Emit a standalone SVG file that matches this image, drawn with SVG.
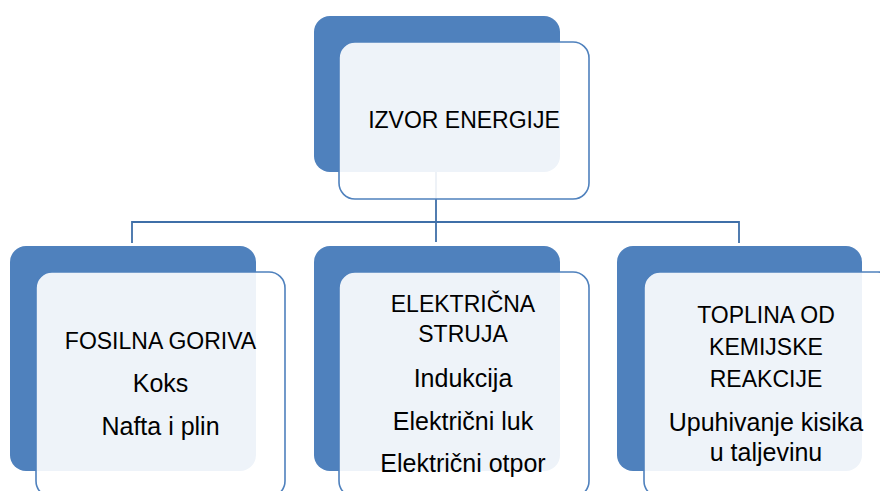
<svg xmlns="http://www.w3.org/2000/svg" width="880" height="491" viewBox="0 0 880 491">
<style>
.back{fill:#4F81BD}
.front{fill:#FFFFFF;fill-opacity:0.9;stroke:#4F81BD;stroke-width:1.6}
.conn{fill:none;stroke:#3F6FA8;stroke-width:1.8}
text{font-family:"Liberation Sans",Arial,sans-serif;font-size:23px;fill:#000;text-anchor:middle}
.lc{font-size:25px}
</style>
<rect width="880" height="491" fill="#FFFFFF"/>
<g id="connectors">
<path class="conn" d="M436,172 V242"/>
<path class="conn" d="M132,243 V222 H739 V243"/>
</g>
<g id="izvor-energije">
<rect class="back" x="314" y="16" width="246" height="156" rx="16"/>
<rect class="front" x="339" y="42" width="250" height="157" rx="16"/>
<text x="464" y="128" font-size="22">IZVOR ENERGIJE</text>
</g>
<g id="fosilna-goriva">
<rect class="back" x="10" y="246" width="246" height="225" rx="16"/>
<rect class="front" x="36" y="272" width="249" height="225" rx="16"/>
<text x="160.5" y="349">FOSILNA GORIVA</text>
<text class="lc" x="160.5" y="392">Koks</text>
<text class="lc" x="160.5" y="435">Nafta i plin</text>
</g>
<g id="elektricna-struja">
<rect class="back" x="314" y="246" width="246" height="225" rx="16"/>
<rect class="front" x="339" y="272" width="250" height="225" rx="16"/>
<text x="463" y="312">ELEKTRIČNA</text>
<text x="463" y="342">STRUJA</text>
<text class="lc" x="463" y="387">Indukcija</text>
<text class="lc" x="463" y="430">Električni luk</text>
<text class="lc" x="463" y="472">Električni otpor</text>
</g>
<g id="toplina">
<rect class="back" x="617" y="246" width="245" height="225" rx="16"/>
<rect class="front" x="644" y="272" width="250" height="225" rx="16"/>
<text x="766" y="323">TOPLINA OD</text>
<text x="766" y="355">KEMIJSKE</text>
<text x="766" y="387">REAKCIJE</text>
<text class="lc" x="766" y="431">Upuhivanje kisika</text>
<text class="lc" x="766" y="461">u taljevinu</text>
</g>
</svg>
